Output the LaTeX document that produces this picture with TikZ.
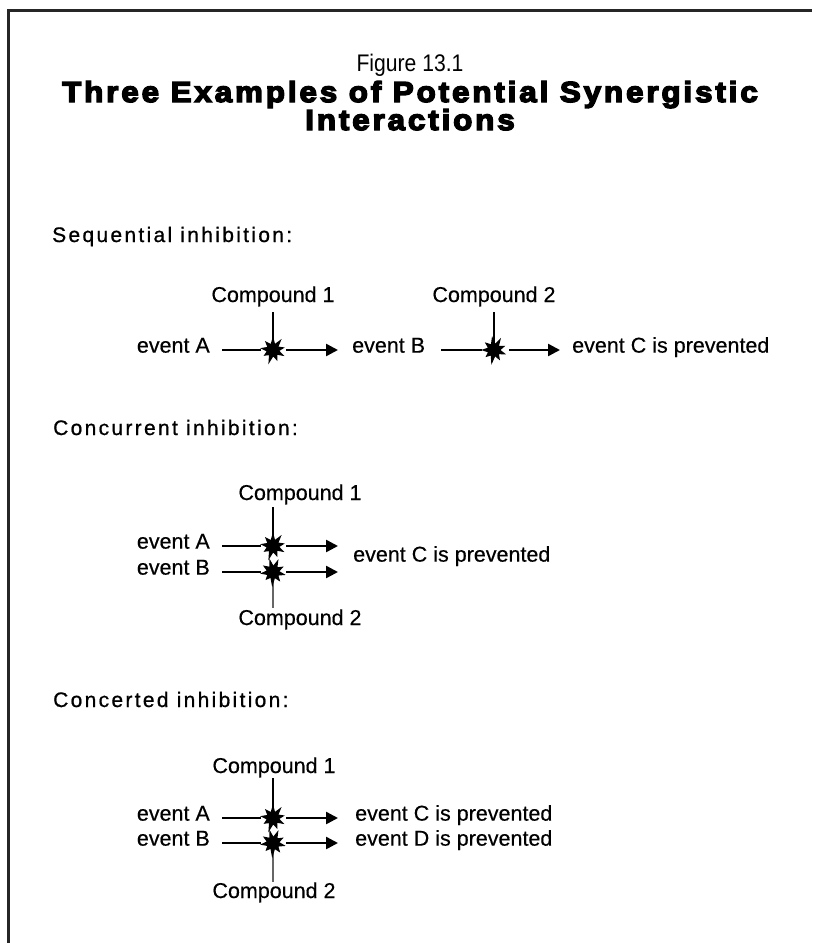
\documentclass[tikz,border=0pt]{standalone}
\usepackage{fontspec}
\setmainfont{Liberation Sans}
\newfontfamily\titlefont[FakeBold=5,LetterSpace=10,FakeStretch=1.08]{Liberation Sans}
\newfontfamily\headfont[LetterSpace=11,FakeBold=0.8]{Liberation Sans}
\newfontfamily\figfont[FakeStretch=0.88]{Liberation Sans}
\newfontfamily\bodyfont[FakeBold=0.4]{Liberation Sans}
\usetikzlibrary{arrows.meta}
\begin{document}
\begin{tikzpicture}[x=1pt,y=1pt,
  txt/.style={inner sep=0pt,font=\bodyfont\fontsize{21.5}{25}\selectfont},
  hdr/.style={inner sep=0pt,anchor=base west,font=\headfont\fontsize{21}{24}\selectfont},
  ttl/.style={inner sep=0pt,anchor=base,font=\titlefont\bfseries\fontsize{29}{33}\selectfont},
  hline/.style={line width=2.5pt},
  vline/.style={line width=1.3pt},
  varrow/.style={line width=2.5pt,-{Triangle[length=12pt,width=12pt]}},
  burst/.pic={\fill (90:14pt) -- (110:6.5pt) -- (132:12pt) -- (152:6.5pt) -- (172:13pt) -- (192:6.5pt) -- (212:11pt) -- (232:6.5pt) -- (252:15pt) -- (272:6.5pt) -- (292:12pt) -- (312:6.5pt) -- (332:13pt) -- (352:6.5pt) -- (12:12pt) -- (32:6.5pt) -- (52:14pt) -- (72:6.5pt) -- cycle;}
]
\useasboundingbox (0,0) rectangle (812,-943);
\fill[white] (0,0) rectangle (812,-943);
\draw[line width=3pt,black!85] (8,-943) -- (8,-10.5) -- (812,-10.5);

% title
\node[inner sep=0pt,anchor=base,font=\figfont\fontsize{24}{28}\selectfont] (fig) at (410,-71) {Figure 13.1};
\node[ttl] (t1) at (410,-102) {Three Examples of Potential Synergistic};
\node[ttl] (t2) at (410,-130) {Interactions};

% ---------- Sequential ----------
\node[hdr] (h1) at (52,-242) {Sequential inhibition:};
\coordinate (s1) at (273,-350);
\coordinate (s2) at (494,-350);
\node[txt,anchor=mid east] (a1) at (210,-350) {event A};
\node[txt,anchor=mid west] (b1) at (352,-350) {event B};
\node[txt,anchor=mid west] (c1) at (572,-350) {event C is prevented};
\node[txt,anchor=base] (k1) at (273,-302) {Compound 1};
\node[txt,anchor=base] (k2) at (494,-302) {Compound 2};
\draw[vline] (273,-312) -- (s1);
\draw[vline] (494,-312) -- (s2);
\draw[hline] ([xshift=12pt]a1.mid east) -- ([xshift=-12pt]s1);
\draw[varrow] ([xshift=13pt]s1) -- ([xshift=-14pt]b1.mid west);
\draw[hline] ([xshift=16pt]b1.mid east) -- ([xshift=-12pt]s2);
\draw[varrow] ([xshift=15pt]s2) -- ([xshift=-12pt]c1.mid west);
\pic at (s1) {burst};
\pic[rotate=8] at (s2) {burst};

% ---------- Concurrent ----------
\node[hdr] (h2) at (53,-435) {Concurrent inhibition:};
\coordinate (s3) at (273,-546);
\coordinate (s4) at (273,-572);
\coordinate (e3) at (338,-546);
\coordinate (e4) at (338,-572);
\node[txt,anchor=mid east] (a2) at (210,-546) {event A};
\node[txt,anchor=mid east] (b2) at (210,-572) {event B};
\node[txt,anchor=mid west] (c2) at (353,-559) {event C is prevented};
\node[txt,anchor=base] (k3) at (300,-500) {Compound 1};
\node[txt,anchor=base] (k4) at (300,-625) {Compound 2};
\draw[vline] (273,-507) -- (s3);
\draw[vline,black!60] (s4) -- (273,-608);
\draw[hline] ([xshift=12pt]a2.mid east) -- ([xshift=-12pt]s3);
\draw[hline] ([xshift=12pt]b2.mid east) -- ([xshift=-12pt]s4);
\draw[varrow] ([xshift=13pt]s3) -- (e3);
\draw[varrow] ([xshift=13pt]s4) -- (e4);
\pic at (s3) {burst};
\pic[rotate=15] at (s4) {burst};

% ---------- Concerted ----------
\node[hdr] (h3) at (53,-707) {Concerted inhibition:};
\coordinate (s5) at (273,-818);
\coordinate (s6) at (273,-843);
\node[txt,anchor=mid east] (a3) at (210,-818) {event A};
\node[txt,anchor=mid east] (b3) at (210,-843) {event B};
\node[txt,anchor=mid west] (c3) at (355,-818) {event C is prevented};
\node[txt,anchor=mid west] (d3) at (355,-843) {event D is prevented};
\node[txt,anchor=base] (k5) at (274,-773) {Compound 1};
\node[txt,anchor=base] (k6) at (274,-898) {Compound 2};
\draw[vline] (273,-778) -- (s5);
\draw[vline,black!60] (s6) -- (273,-882);
\draw[hline] ([xshift=12pt]a3.mid east) -- ([xshift=-12pt]s5);
\draw[hline] ([xshift=12pt]b3.mid east) -- ([xshift=-12pt]s6);
\draw[varrow] ([xshift=13pt]s5) -- ([xshift=-17pt]c3.mid west);
\draw[varrow] ([xshift=13pt]s6) -- ([xshift=-17pt]d3.mid west);
\pic at (s5) {burst};
\pic[rotate=15] at (s6) {burst};
\end{tikzpicture}
\end{document}
